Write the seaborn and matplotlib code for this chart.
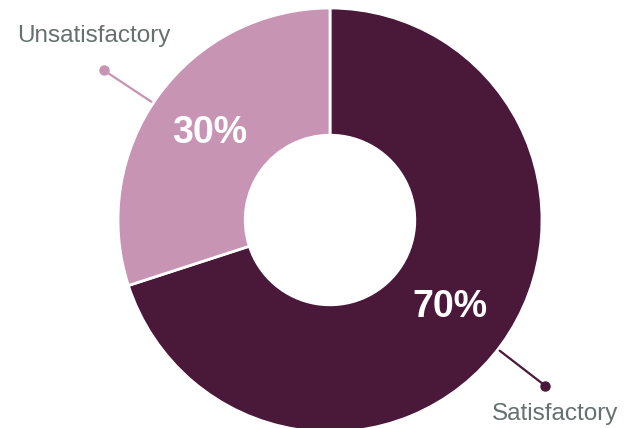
import numpy as np
import seaborn as sns
import matplotlib.pyplot as plt

# Data
labels = ['Satisfactory', 'Unsatisfactory']
shares = [70, 30]
colors = ['#4a1838', '#c794b4']
label_color = '#66706f'

sns.set_theme(style='white')
plt.rcParams['font.family'] = ['Liberation Sans', 'DejaVu Sans']

fig = plt.figure(figsize=(6.27, 4.28), dpi=100)
ax = fig.add_axes([0, 0, 1, 1])

# Donut, drawn in pixel-like data units
cx, cy, R = 330, 208, 212
wedges, texts, autotexts = ax.pie(
    shares, colors=colors, startangle=90, counterclock=False,
    radius=R, center=(cx, cy), autopct='%d%%', pctdistance=0.70,
    wedgeprops=dict(width=R * 0.6, edgecolor='white', linewidth=2),
    textprops=dict(color='white', fontsize=27, fontweight='bold'))

ax.set_xlim(0, 627)
ax.set_ylim(0, 428)
ax.set_aspect('equal')
ax.axis('off')

# Leader lines with dots and outside labels
for w, lab, col in zip(wedges, labels, colors):
    mid = (w.theta1 + w.theta2) / 2
    mid = np.deg2rad(mid + (2.5 if np.cos(np.deg2rad(mid)) < 0 else -1.6))
    x0, y0 = cx + 1.01 * R * np.cos(mid), cy + 1.01 * R * np.sin(mid)
    x1, y1 = cx + 1.28 * R * np.cos(mid), cy + 1.28 * R * np.sin(mid)
    ax.plot([x0, x1], [y0, y1], color=col, lw=1.6, solid_capstyle='round')
    ax.plot(x1, y1, 'o', color=col, ms=6.5)
    dy = 34 if np.sin(mid) > 0 else -28
    dx = -10 if np.cos(mid) < 0 else 10
    ax.text(x1 + dx, y1 + dy, lab, color=label_color, fontsize=17.5,
            ha='center', va='center')

fig.savefig('out.png', dpi=100)
